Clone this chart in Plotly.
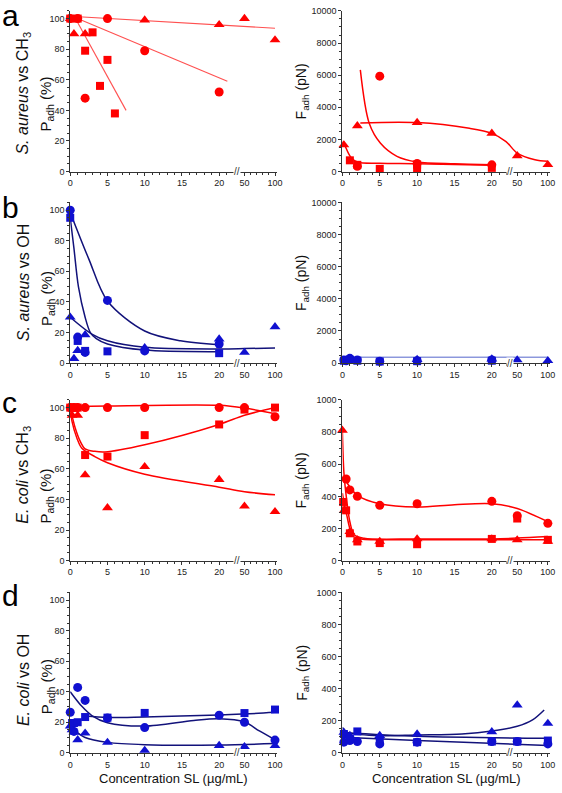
import plotly.graph_objects as go

# ---------------- tick labels ----------------
X_TICK_CONC = [0, 5, 10, 15, 20, 50, 100]
X_TICK_TEXT = ["0", "5", "10", "15", "20", "50", "100"]
X_MINOR_CONC = [1, 2, 3, 4, 6, 7, 8, 9, 11, 12, 13, 14, 16, 17, 18, 19, 21, 22, 60, 70, 80, 90]
Y_PADH_TICKS = [0, 20, 40, 60, 80, 100]
Y_F10K_TICKS = [0, 2000, 4000, 6000, 8000, 10000]
Y_F1K_TICKS = [0, 200, 400, 600, 800, 1000]

# ---------------- panel a : S. aureus vs CH3 ----------------
A_P_CIRC_X = [0, 1, 2, 5, 10, 20]
A_P_CIRC_Y = [100, 100, 48, 100, 79, 52]
A_P_SQ_X = [0, 1, 2, 3, 4, 5, 6]
A_P_SQ_Y = [100, 100, 79, 91, 56, 73, 38]
A_P_TRI_X = [0, 0.5, 2, 10, 20, 50, 100]
A_P_TRI_Y = [100, 90, 90, 99, 96, 100, 86]
A_P_FIT_TRI_X = [0, 100]
A_P_FIT_TRI_Y = [101.5, 93.7]
A_P_FIT_CIRC_X = [0.5, 21.1]
A_P_FIT_CIRC_Y = [101, 59]
A_P_FIT_SQ_X = [0.7, 7.5]
A_P_FIT_SQ_Y = [100, 40]

A_F_CIRC_X = [2, 5, 10, 20]
A_F_CIRC_Y = [330, 5940, 500, 420]
A_F_SQ_X = [1, 2, 5, 10, 10, 20]
A_F_SQ_Y = [700, 420, 170, 430, 170, 230]
A_F_TRI_X = [0.2, 2, 10, 20, 50, 100]
A_F_TRI_Y = [1660, 2850, 3050, 2380, 980, 430]
A_F_FIT1_X = [2.4, 3.6, 5.1, 7.3, 10, 15, 20]
A_F_FIT1_Y = [6330, 2990, 1760, 950, 600, 480, 430]
A_F_FIT2_X = [0.1, 1.2, 2.1, 5, 10, 20]
A_F_FIT2_Y = [1900, 840, 580, 520, 490, 390]
A_F_FIT3_X = [2.4, 10, 17, 20, 21.9, 50, 79, 100]
A_F_FIT3_Y = [3030, 3050, 2690, 2380, 1870, 1150, 740, 640]

# ---------------- panel b : S. aureus vs OH ----------------
B_P_CIRC_X = [0, 1, 2, 5, 10, 20]
B_P_CIRC_Y = [100, 17, 7, 41, 8, 12.5]
B_P_SQ_X = [0, 1, 2, 5, 20]
B_P_SQ_Y = [95, 14.5, 8, 7.7, 6.5]
B_P_TRI_X = [0, 0.5, 1, 2, 10, 20, 50, 100]
B_P_TRI_Y = [30, 3, 8.2, 18.5, 10, 15.7, 7, 23.7]
B_P_FIT1_X = [0, 2.5, 5, 10, 14.8, 20]
B_P_FIT1_Y = [98.5, 68, 40.6, 21, 14.6, 12]
B_P_FIT2_X = [0, 0.5, 1.1, 2, 2.7, 3.5, 5, 10, 20]
B_P_FIT2_Y = [95, 75, 50, 30, 20, 16, 12.5, 8.5, 7.5]
B_P_FIT3_X = [0, 2.9, 5, 10, 20, 50, 100]
B_P_FIT3_Y = [30, 19, 14.6, 10.3, 9.3, 9.5, 9.9]

B_F_CIRC_X = [0.2, 0.5, 1, 2, 5, 10, 20]
B_F_CIRC_Y = [200, 150, 300, 200, 120, 150, 200]
B_F_SQ_X = [0.2, 1, 2, 5, 10, 20]
B_F_SQ_Y = [150, 200, 150, 100, 120, 150]
B_F_TRI_X = [0.5, 1, 10, 20, 50, 100]
B_F_TRI_Y = [200, 250, 220, 250, 200, 150]
B_F_FIT_X = [0, 100]
B_F_FIT_Y = [370, 370]

# ---------------- panel c : E. coli vs CH3 ----------------
C_P_CIRC_X = [0, 0.5, 1, 2, 5, 10, 20, 50, 100]
C_P_CIRC_Y = [100, 100, 100, 100, 100, 100, 100, 100, 94]
C_P_SQ_X = [0, 0.5, 1, 2, 5, 10, 20, 50, 100]
C_P_SQ_Y = [100, 100, 100, 69, 68, 82, 89, 98.7, 100]
C_P_TRI_X = [0.25, 1, 2, 5, 10, 20, 50, 100]
C_P_TRI_Y = [95, 95, 56, 34.5, 61.4, 53, 35.6, 32]
C_P_FIT1_X = [0, 5, 20, 50, 100]
C_P_FIT1_Y = [100.5, 101, 101.5, 99.7, 96]
C_P_FIT2_X = [0, 0.68, 1.35, 2, 3.3, 4.65, 10, 20, 50, 100]
C_P_FIT2_Y = [100, 86.5, 77.9, 73, 71.4, 71, 75.7, 89, 95, 100]
C_P_FIT3_X = [0, 0.24, 0.9, 1.56, 3.3, 5, 10, 20, 50, 100]
C_P_FIT3_Y = [100, 91, 80, 73.4, 68, 64, 56.5, 48, 45, 43]

C_F_CIRC_X = [0.5, 1, 2, 5, 10, 20, 50, 100]
C_F_CIRC_Y = [508, 440, 400, 344, 354, 369, 280, 232]
C_F_SQ_X = [0.1, 0.5, 1, 2, 5, 10, 20, 50, 100]
C_F_SQ_Y = [365, 313, 170, 119, 109, 102, 135, 262, 129]
C_F_TRI_X = [0, 0.25, 1, 2, 5, 10, 20, 50, 100]
C_F_TRI_Y = [811, 313, 180, 129, 119, 135, 135, 129, 119]
C_F_FIT1_X = [0.3, 2, 5, 10, 15, 20, 50, 100]
C_F_FIT1_Y = [508, 406, 354, 334, 348, 354, 324, 242]
C_F_FIT2_X = [0, 0.2, 0.5, 1, 1.6, 2.9, 10, 20, 50, 100]
C_F_FIT2_Y = [800, 549, 406, 242, 160, 139, 135, 135, 140, 150]
C_F_FIT3_X = [0, 0.3, 0.6, 1, 1.5, 2.5, 10, 20, 50, 100]
C_F_FIT3_Y = [420, 340, 280, 200, 150, 135, 130, 130, 130, 130]

# ---------------- panel d : E. coli vs OH ----------------
D_P_CIRC_X = [0, 0.5, 1, 2, 5, 10, 20, 50, 100]
D_P_CIRC_Y = [26.5, 14, 42.8, 34.3, 22.7, 16.5, 24.6, 20, 8.3]
D_P_SQ_X = [0.25, 0.5, 1, 2, 5, 10, 50, 100]
D_P_SQ_Y = [19.5, 19.5, 20, 23.4, 23, 26.1, 26, 28.3]
D_P_TRI_X = [0, 0.25, 0.5, 1, 2, 5, 10, 20, 50, 100]
D_P_TRI_Y = [17.5, 15, 13.3, 8.5, 12.8, 6.8, 1.5, 4.7, 4, 4.6]
D_P_FIT1_X = [0, 1.56, 2.9, 5, 10, 16.6, 20, 50, 74.4, 100]
D_P_FIT1_Y = [40, 30.4, 24.4, 19.7, 17.5, 21.2, 22.2, 20.1, 14.3, 8.5]
D_P_FIT2_X = [2, 5, 10, 20, 50, 100]
D_P_FIT2_Y = [24, 23.1, 23.5, 24.8, 25.4, 26.5]
D_P_FIT3_X = [0, 0.7, 2, 5, 10, 20, 100]
D_P_FIT3_Y = [17.5, 14.3, 10, 6.8, 5.3, 5.1, 6]

D_F_CIRC_X = [0.2, 1, 2, 5, 10, 20, 50, 100]
D_F_CIRC_Y = [66, 76, 70, 55, 66, 70, 70, 55]
D_F_SQ_X = [0.2, 1, 2, 5, 10, 20, 50, 100]
D_F_SQ_Y = [117, 86, 133, 86, 66, 70, 70, 76]
D_F_TRI_X = [0.2, 1, 5, 10, 20, 50, 100]
D_F_TRI_Y = [127, 107, 107, 117, 131, 298, 183]
D_F_FIT1_X = [0, 0.7, 4.7, 10, 16, 20, 50, 75, 94]
D_F_FIT1_Y = [158, 127, 107, 111, 117, 135, 165, 205, 267]
D_F_FIT2_X = [0, 10, 100]
D_F_FIT2_Y = [127, 103, 90]
D_F_FIT3_X = [0, 10, 100]
D_F_FIT3_Y = [96, 76, 45]

ROW_TITLES = ["<i>S. aureus</i> vs CH<sub>3</sub>", "<i>S. aureus</i> vs OH",
              "<i>E. coli</i> vs CH<sub>3</sub>", "<i>E. coli</i> vs OH"]
PANEL_LETTERS = ["a", "b", "c", "d"]
X_TITLE = "Concentration SL (µg/mL)"

# ---------------- style ----------------
W, H = 562, 793
FONT = "Liberation Sans, Arial, sans-serif"
RED = "#ff0000"
RED_LIGHT = "#ff5050"
BLUE_M = "#1010d0"
BLUE_L = "#12127a"
BLUE_THIN = "#5566cc"
AXC = "#333333"

ROW_TOP = [6, 200, 400, 595]
ROW_BOT = [168.7, 362.7, 562.7, 757.3]
XL = (68.2, 278.2)
XR = (344.3, 555.0)
XRANGE = [0, 27.8]


def tx(c):
    """broken-axis mapping: concentration -> display position"""
    if c <= 22.3:
        return c
    if c >= 40:
        return 23.4 + (c - 50) * 0.082
    return 22.3 + (c - 22.3) * (22.58 - 22.3) / (40 - 22.3)


fig = go.Figure()


def ax(i):
    return ("x" if i == 1 else f"x{i}"), ("y" if i == 1 else f"y{i}")


def curve(i, xs, ys, color, width=1.5, spline=True):
    xa, ya = ax(i)
    fig.add_trace(go.Scatter(
        x=[tx(v) for v in xs], y=ys, mode="lines", xaxis=xa, yaxis=ya,
        line=dict(color=color, width=width, shape="spline" if spline else "linear", smoothing=0.9),
        showlegend=False, hoverinfo="skip"))


def marks(i, xs, ys, symbol, color):
    xa, ya = ax(i)
    size = {"circle": 9, "square": 8, "triangle-up": 9.5}[symbol]
    fig.add_trace(go.Scatter(
        x=[tx(v) for v in xs], y=ys, mode="markers", xaxis=xa, yaxis=ya,
        marker=dict(symbol=symbol, size=size, color=color, line=dict(width=0)),
        cliponaxis=False, showlegend=False, hoverinfo="skip"))


# panel a
curve(1, A_P_FIT_TRI_X, A_P_FIT_TRI_Y, RED_LIGHT, 1.1, False)
curve(1, A_P_FIT_CIRC_X, A_P_FIT_CIRC_Y, RED_LIGHT, 1.1, False)
curve(1, A_P_FIT_SQ_X, A_P_FIT_SQ_Y, RED_LIGHT, 1.1, False)
marks(1, A_P_CIRC_X, A_P_CIRC_Y, "circle", RED)
marks(1, A_P_SQ_X, A_P_SQ_Y, "square", RED)
marks(1, A_P_TRI_X, A_P_TRI_Y, "triangle-up", RED)
curve(2, A_F_FIT1_X, A_F_FIT1_Y, RED)
curve(2, A_F_FIT2_X, A_F_FIT2_Y, RED)
curve(2, A_F_FIT3_X, A_F_FIT3_Y, RED)
marks(2, A_F_CIRC_X, A_F_CIRC_Y, "circle", RED)
marks(2, A_F_SQ_X, A_F_SQ_Y, "square", RED)
marks(2, A_F_TRI_X, A_F_TRI_Y, "triangle-up", RED)
# panel b
curve(3, B_P_FIT1_X, B_P_FIT1_Y, BLUE_L)
curve(3, B_P_FIT2_X, B_P_FIT2_Y, BLUE_L)
curve(3, B_P_FIT3_X, B_P_FIT3_Y, BLUE_L)
marks(3, B_P_CIRC_X, B_P_CIRC_Y, "circle", BLUE_M)
marks(3, B_P_SQ_X, B_P_SQ_Y, "square", BLUE_M)
marks(3, B_P_TRI_X, B_P_TRI_Y, "triangle-up", BLUE_M)
curve(4, B_F_FIT_X, B_F_FIT_Y, BLUE_THIN, 1, False)
marks(4, B_F_CIRC_X, B_F_CIRC_Y, "circle", BLUE_M)
marks(4, B_F_SQ_X, B_F_SQ_Y, "square", BLUE_M)
marks(4, B_F_TRI_X, B_F_TRI_Y, "triangle-up", BLUE_M)
# panel c
curve(5, C_P_FIT1_X, C_P_FIT1_Y, RED)
curve(5, C_P_FIT2_X, C_P_FIT2_Y, RED)
curve(5, C_P_FIT3_X, C_P_FIT3_Y, RED)
marks(5, C_P_CIRC_X, C_P_CIRC_Y, "circle", RED)
marks(5, C_P_SQ_X, C_P_SQ_Y, "square", RED)
marks(5, C_P_TRI_X, C_P_TRI_Y, "triangle-up", RED)
curve(6, C_F_FIT1_X, C_F_FIT1_Y, RED)
curve(6, C_F_FIT2_X, C_F_FIT2_Y, RED)
curve(6, C_F_FIT3_X, C_F_FIT3_Y, RED)
marks(6, C_F_CIRC_X, C_F_CIRC_Y, "circle", RED)
marks(6, C_F_SQ_X, C_F_SQ_Y, "square", RED)
marks(6, C_F_TRI_X, C_F_TRI_Y, "triangle-up", RED)
# panel d
curve(7, D_P_FIT1_X, D_P_FIT1_Y, BLUE_L)
curve(7, D_P_FIT2_X, D_P_FIT2_Y, BLUE_L)
curve(7, D_P_FIT3_X, D_P_FIT3_Y, BLUE_L)
marks(7, D_P_CIRC_X, D_P_CIRC_Y, "circle", BLUE_M)
marks(7, D_P_SQ_X, D_P_SQ_Y, "square", BLUE_M)
marks(7, D_P_TRI_X, D_P_TRI_Y, "triangle-up", BLUE_M)
curve(8, D_F_FIT1_X, D_F_FIT1_Y, BLUE_L)
curve(8, D_F_FIT2_X, D_F_FIT2_Y, BLUE_L)
curve(8, D_F_FIT3_X, D_F_FIT3_Y, BLUE_L)
marks(8, D_F_CIRC_X, D_F_CIRC_Y, "circle", BLUE_M)
marks(8, D_F_SQ_X, D_F_SQ_Y, "square", BLUE_M)
marks(8, D_F_TRI_X, D_F_TRI_Y, "triangle-up", BLUE_M)

layout = dict(
    width=W, height=H, margin=dict(l=0, r=0, t=0, b=0),
    paper_bgcolor="white", plot_bgcolor="white",
    font=dict(family=FONT, color="#222222"),
    showlegend=False,
)
annotations = []

for i in range(1, 9):
    row = (i - 1) // 2
    left = (i % 2 == 1)
    xd = XL if left else XR
    xkey = "xaxis" if i == 1 else f"xaxis{i}"
    ykey = "yaxis" if i == 1 else f"yaxis{i}"
    xa, ya = ax(i)
    layout[xkey] = dict(
        domain=[xd[0] / W, xd[1] / W], range=XRANGE, anchor=ya,
        tickmode="array", tickvals=[tx(v) for v in X_TICK_CONC], ticktext=X_TICK_TEXT,
        ticks="outside", ticklen=3, tickwidth=1, tickcolor=AXC,
        showline=True, linecolor=AXC, linewidth=1, showgrid=False, zeroline=False,
        tickfont=dict(size=9, family=FONT, color="#222222"),
        ticklabeloverflow="allow",
        minor=dict(tickmode="array", tickvals=[tx(v) for v in X_MINOR_CONC],
                   ticks="outside", ticklen=2, tickcolor=AXC, showgrid=False),
        fixedrange=True,
    )
    if left:
        yr, yt, ym = [0, 105], Y_PADH_TICKS, 5
    elif row < 2:
        yr, yt, ym = [0, 10000], Y_F10K_TICKS, 500
    else:
        yr, yt, ym = [0, 1000], Y_F1K_TICKS, 50
    layout[ykey] = dict(
        domain=[1 - ROW_BOT[row] / H, 1 - ROW_TOP[row] / H], range=yr, anchor=xa,
        tickmode="array", tickvals=yt, ticktext=[str(v) for v in yt],
        ticks="outside", ticklen=3, tickwidth=1, tickcolor=AXC,
        showline=True, linecolor=AXC, linewidth=1, showgrid=False, zeroline=False,
        tickfont=dict(size=9, family=FONT, color="#222222"),
        ticklabeloverflow="allow",
        minor=dict(dtick=ym, tick0=0, ticks="outside", ticklen=2, tickcolor=AXC, showgrid=False),
        fixedrange=True,
    )
    # axis-break mark
    annotations.append(dict(
        x=22.45, y=0, xref=xa, yref=f"{ya} domain", text="//", showarrow=False,
        font=dict(size=10, family=FONT, color=AXC), bgcolor="white",
        xanchor="center", yanchor="middle", borderpad=0))

TITLE_Y = [89, 281, 476, 684]
PADH_Y = [100, 297, 497, 690]
LETTER_Y = [11, 204.8, 402.8, 597.8]
for r in range(4):
    annotations.append(dict(
        x=21 / W, y=1 - TITLE_Y[r] / H, xref="paper", yref="paper", text=ROW_TITLES[r],
        textangle=-90, showarrow=False, xanchor="center", yanchor="middle",
        font=dict(size=16, family=FONT, color="#111111")))
    annotations.append(dict(
        x=44.5 / W, y=1 - PADH_Y[r] / H, xref="paper", yref="paper", text="P<sub>adh</sub> (%)",
        textangle=-90, showarrow=False, xanchor="center", yanchor="middle",
        font=dict(size=15, family=FONT, color="#111111")))
    annotations.append(dict(
        x=303.5 / W, y=1 - (ROW_TOP[r] + ROW_BOT[r]) / 2 / H, xref="paper", yref="paper",
        text="F<sub>adh</sub> (pN)",
        textangle=-90, showarrow=False, xanchor="center", yanchor="middle",
        font=dict(size=14, family=FONT, color="#111111")))
    annotations.append(dict(
        x=-3 / W, y=1 - LETTER_Y[r] / H, xref="paper", yref="paper", text=PANEL_LETTERS[r],
        showarrow=False, xanchor="left", yanchor="middle",
        font=dict(size=30, family=FONT, color="#000000")))

for xc in [(XL[0] + XL[1]) / 2, (XR[0] + XR[1]) / 2]:
    annotations.append(dict(
        x=xc / W, y=1 - 783 / H, xref="paper", yref="paper", text=X_TITLE,
        showarrow=False, xanchor="center", yanchor="middle",
        font=dict(size=13, family=FONT, color="#111111")))

layout["annotations"] = annotations
fig.update_layout(**layout)
fig.write_html("out.html",
               config={"displayModeBar": False},
               post_script="document.body.style.margin='0px';document.body.style.overflow='hidden';")
